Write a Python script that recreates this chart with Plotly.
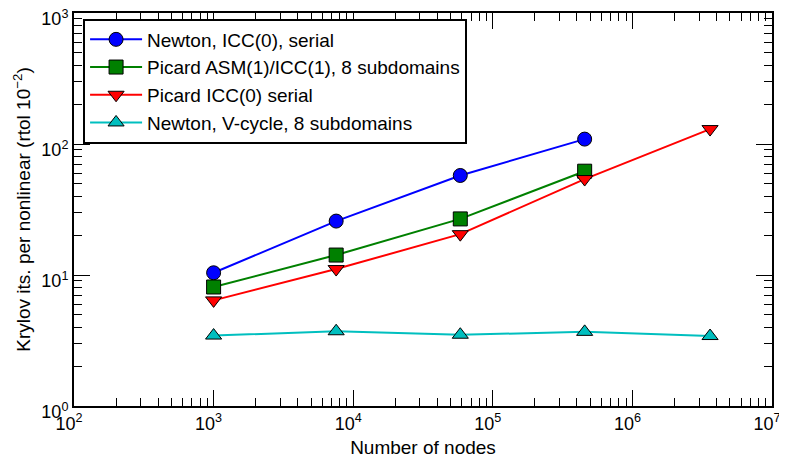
import plotly.graph_objects as go

# Data
nodes = [1000, 7550, 58500, 455000, 3600000]
newton_icc = [10.4, 25.8, 57.5, 109]
picard_asm = [8.1, 14.2, 26.8, 62]
picard_icc = [6.4, 11.1, 20.5, 54, 130]
newton_vcycle = [3.45, 3.72, 3.5, 3.68, 3.42]

series_names = [
    "Newton, ICC(0), serial",
    "Picard ASM(1)/ICC(1), 8 subdomains",
    "Picard ICC(0) serial",
    "Newton, V-cycle, 8 subdomains",
]

x_tick_vals = [1e2, 1e3, 1e4, 1e5, 1e6, 1e7]
x_tick_labels = ["10<sup>2</sup>", "10<sup>3</sup>", "10<sup>4</sup>",
                 "10<sup>5</sup>", "10<sup>6</sup>", "10<sup>7</sup>"]
y_tick_vals = [1, 10, 100, 1000]
y_tick_labels = ["10<sup>0</sup>", "10<sup>1</sup>", "10<sup>2</sup>", "10<sup>3</sup>"]

FONT = "Liberation Sans, Arial, Helvetica, sans-serif"

fig = go.Figure()

styles = [
    (newton_icc, "#0000ff", "circle"),
    (picard_asm, "#008000", "square"),
    (picard_icc, "#ff0000", "triangle-down"),
    (newton_vcycle, "#00bfbf", "triangle-up"),
]

for name, (vals, color, sym) in zip(series_names, styles):
    fig.add_trace(go.Scatter(
        x=nodes[:len(vals)], y=vals, name=name, mode="lines+markers",
        line=dict(color=color, width=2),
        marker=dict(symbol=sym, size=14, color=color,
                    line=dict(color="black", width=1)),
    ))

axis_common = dict(
    type="log", automargin=False,
    showgrid=False, zeroline=False,
    showline=True, linecolor="black", linewidth=2, mirror="allticks",
    ticks="inside", ticklen=16, tickwidth=1, tickcolor="black",
    minor=dict(ticks="inside", ticklen=8, tickwidth=1, tickcolor="black",
               dtick="D1", showgrid=False),
    tickfont=dict(family=FONT, size=18, color="black"),
    ticklabeloverflow="allow",
)

fig.update_xaxes(range=[2, 7], tickmode="array", tickvals=x_tick_vals, ticktext=x_tick_labels,
                 ticklabelshift=-5,
                 title=dict(text="Number of nodes",
                            font=dict(family=FONT, size=19, color="black"), standoff=8),
                 **axis_common)
fig.update_yaxes(range=[0, 3], tickmode="array", tickvals=y_tick_vals, ticktext=y_tick_labels,
                 ticklabelshift=6,
                 title=dict(text="Krylov its. per nonlinear (rtol 10<sup>\u22122</sup>)",
                            font=dict(family=FONT, size=19, color="black"), standoff=6),
                 **axis_common)

fig.update_layout(
    width=779, height=450,
    margin=dict(l=66, r=15, t=5, b=52),
    paper_bgcolor="white", plot_bgcolor="white",
    font=dict(family=FONT, size=19, color="black"),
    showlegend=True,
    legend=dict(x=0.013, y=0.986, xanchor="left", yanchor="top",
                bordercolor="black", borderwidth=2, bgcolor="white",
                font=dict(family=FONT, size=19, color="black"),
                itemwidth=52, tracegroupgap=0),
)

fig.write_html("out.html")
